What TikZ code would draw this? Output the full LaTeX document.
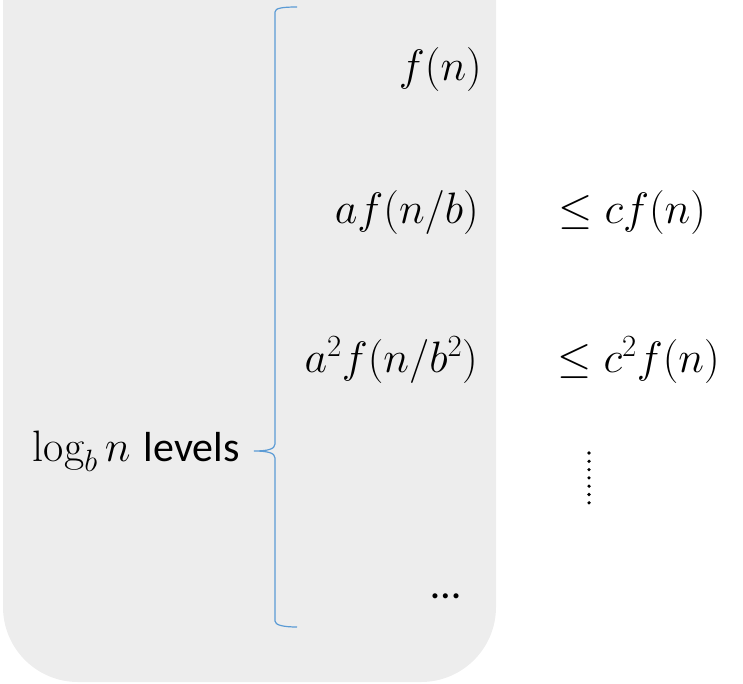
\documentclass[tikz,border=0pt]{standalone}
\usepackage{fix-cm}
\usepackage{amsmath}
\usepackage{fontspec}
\newfontfamily\calibri{Carlito}
\usepackage{xcolor}
\usetikzlibrary{positioning}
\definecolor{panel}{HTML}{EDEDED}
\definecolor{braceblue}{HTML}{5B9BD5}

\begin{document}
\begin{tikzpicture}[x=1pt,y=-1pt,
    every node/.style={inner sep=0pt,font=\fontsize{42}{48}\selectfont},
    term/.style={font=\fontsize{44}{50}\selectfont},
    bracestyle/.style={draw=braceblue,line width=1.2pt}]
  \useasboundingbox (0,0) rectangle (743,684);
  \clip (0,0) rectangle (743,684);
  % grey panel behind the sums
  \fill[panel,rounded corners=75] (3,-150) -- (3,682) -- (496,682) -- (496,-150) -- cycle;
  % left brace over the levels
  \coordinate (tip) at (254,451);
  \draw[bracestyle] (297,7) .. controls (283,7) and (275,8) .. (275,12) -- (275,444)
    .. controls (275,449) and (268,451) .. (tip)
    .. controls (268,451) and (275,453) .. (275,458) -- (275,621)
    .. controls (275,625) and (283,627) .. (297,627);
  \node[left=14pt of tip,term] (levels) {$\log_b n$ {\fontsize{42}{48}\selectfont\calibri levels}};
  % cost per level
  \node[anchor=east,term] (fn) at (482,70) {$f(n)$};
  \node[anchor=east,term] (afn) at (479,213) {$af(n/b)$};
  \node[anchor=east,term] (aafn) at (478,360) {$a^2f(n/b^2)$};
  \node[anchor=base] (hdots) at (446,598) {\calibri …};
  % bounds
  \node[anchor=west,term] (cfn) at (558,213) {$\leq cf(n)$};
  \node[anchor=west,term] (ccfn) at (557,360) {$\leq c^2f(n)$};
  \foreach \k in {0,...,6}
    \fill (589,453+8.3*\k) circle (1.8);
\end{tikzpicture}
\end{document}
